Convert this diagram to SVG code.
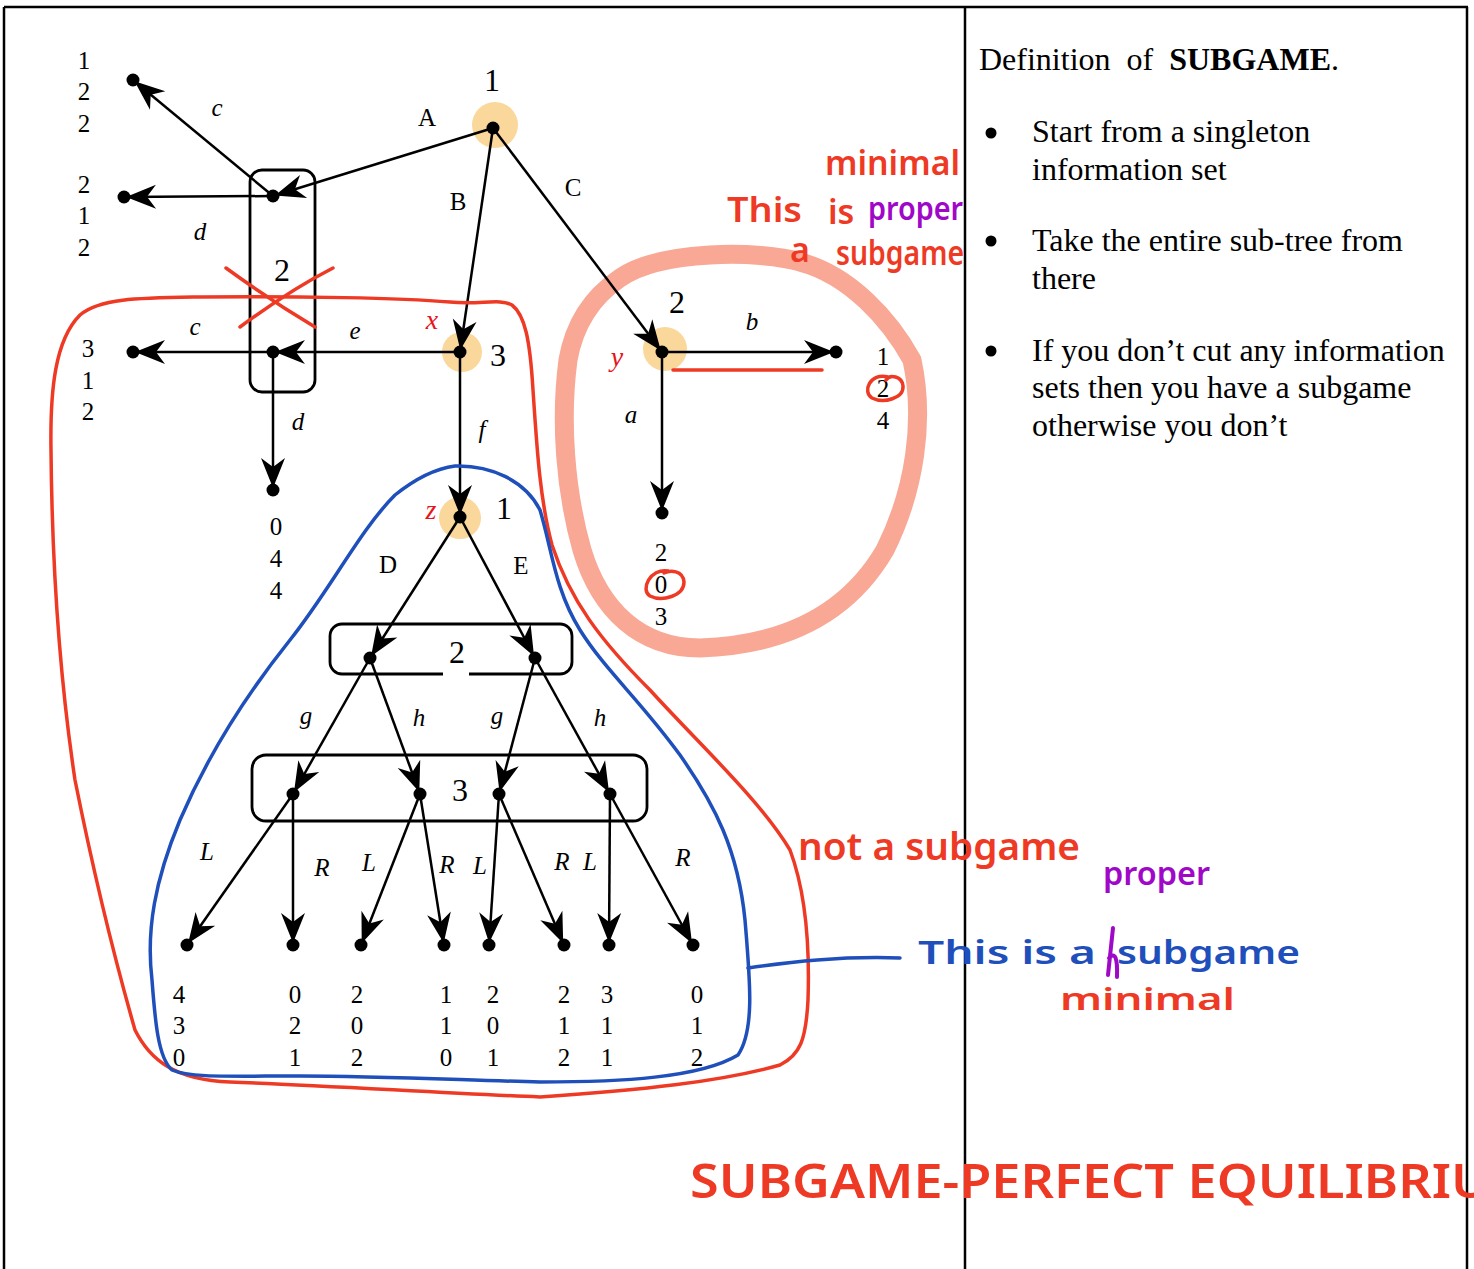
<svg xmlns="http://www.w3.org/2000/svg" width="1474" height="1269" viewBox="0 0 1474 1269">
<style>
.n{font-family:"Liberation Serif",serif;font-size:25px;text-anchor:middle;fill:#000}
.p{font-family:"Liberation Serif",serif;font-size:32px;text-anchor:middle;fill:#000}
.e{font-family:"Liberation Serif",serif;font-size:25px;text-anchor:middle;fill:#000}
.i{font-style:italic}
.rv{font-family:"Liberation Serif",serif;font-size:28px;font-style:italic;fill:#e8141b;text-anchor:middle}
.edge{stroke:#000;stroke-width:2.5;fill:none;marker-end:url(#ah)}
.dot{fill:#000}
.iset{fill:none;stroke:#000;stroke-width:2.8}
.hl{fill:#f9d38f;opacity:0.9}
.hw{font-family:"Noto Sans","DejaVu Sans",sans-serif;font-weight:600}
.txt{font-family:"Liberation Serif",serif;font-size:32px;fill:#000}
</style>
<defs>
<marker id="ah" markerUnits="userSpaceOnUse" viewBox="0 0 32 26" markerWidth="32" markerHeight="26" refX="33" refY="13" orient="auto">
<path d="M31,13 L1,1 L10,13 L1,25 Z" fill="#000"/>
</marker>
</defs>
<rect x="0" y="0" width="1474" height="1269" fill="#fff"/>
<g id="table" stroke="#000" stroke-width="2.5" fill="none">
<line x1="4" y1="7" x2="1468" y2="7"/>
<line x1="4" y1="7" x2="4" y2="1269"/>
<line x1="965" y1="7" x2="965" y2="1269"/>
<line x1="1467" y1="7" x2="1467" y2="1269"/>
</g>
<g id="highlights">
<circle class="hl" cx="495" cy="125" r="23"/>
<circle class="hl" cx="462" cy="352" r="20"/>
<circle class="hl" cx="460" cy="518" r="21"/>
<circle class="hl" cx="665" cy="349" r="22"/>
</g>
<path id="proper-circle" d="M620,278 C660,250 760,250 800,262 C850,275 890,320 912,360 C925,420 915,490 885,550 C850,610 790,645 700,648 C640,648 600,610 582,550 C565,490 560,420 568,360 C575,320 595,295 620,278 Z" fill="none" stroke="#f8a895" stroke-width="19"/>
<g id="infoset-2a"><rect class="iset" x="250" y="170" width="65" height="222" rx="12"/><text class="p" x="282" y="281">2</text></g>
<g id="infoset-2b"><rect class="iset" x="330" y="624" width="242" height="50" rx="12"/><rect x="443" y="667" width="26" height="10" fill="#fff"/><text class="p" x="457" y="663">2</text></g>
<g id="infoset-3"><rect class="iset" x="252" y="755" width="395" height="66" rx="14"/><text class="p" x="460" y="801">3</text></g>
<g id="connectors">
<line class="edge" x1="493" y1="128" x2="273" y2="196"/>
<line class="edge" x1="273" y1="196" x2="133" y2="80"/>
<line class="edge" x1="273" y1="196" x2="124" y2="197"/>
<line class="edge" x1="493" y1="128" x2="460" y2="352"/>
<line class="edge" x1="493" y1="128" x2="662" y2="352"/>
<line class="edge" x1="460" y1="352" x2="273" y2="352"/>
<line class="edge" x1="273" y1="352" x2="133" y2="352"/>
<line class="edge" x1="273" y1="352" x2="273" y2="490"/>
<line class="edge" x1="662" y1="352" x2="836" y2="352"/>
<line class="edge" x1="662" y1="352" x2="662" y2="513"/>
<line class="edge" x1="460" y1="352" x2="460" y2="517"/>
<line class="edge" x1="460" y1="517" x2="370" y2="658"/>
<line class="edge" x1="460" y1="517" x2="535" y2="658"/>
<line class="edge" x1="370" y1="658" x2="293" y2="794"/>
<line class="edge" x1="370" y1="658" x2="420" y2="794"/>
<line class="edge" x1="535" y1="658" x2="499" y2="794"/>
<line class="edge" x1="535" y1="658" x2="610" y2="794"/>
<line class="edge" x1="293" y1="794" x2="187" y2="945"/>
<line class="edge" x1="293" y1="794" x2="293" y2="945"/>
<line class="edge" x1="420" y1="794" x2="361" y2="945"/>
<line class="edge" x1="420" y1="794" x2="444" y2="945"/>
<line class="edge" x1="499" y1="794" x2="489" y2="945"/>
<line class="edge" x1="499" y1="794" x2="564" y2="945"/>
<line class="edge" x1="610" y1="794" x2="609" y2="945"/>
<line class="edge" x1="610" y1="794" x2="693" y2="945"/>
</g>
<g id="edge-labels">
<text class="e" x="427" y="126">A</text>
<text class="e" x="458" y="210">B</text>
<text class="e" x="573" y="196">C</text>
<text class="e i" x="217" y="116">c</text>
<text class="e i" x="200" y="240">d</text>
<text class="e i" x="195" y="335">c</text>
<text class="e i" x="355" y="339">e</text>
<text class="e i" x="298" y="430">d</text>
<text class="e i" x="482" y="438">f</text>
<text class="e i" x="752" y="330">b</text>
<text class="e i" x="631" y="423">a</text>
<text class="e" x="388" y="573">D</text>
<text class="e" x="521" y="574">E</text>
<text class="e i" x="306" y="724">g</text>
<text class="e i" x="419" y="726">h</text>
<text class="e i" x="497" y="724">g</text>
<text class="e i" x="600" y="726">h</text>
<text class="e i" x="207" y="860">L</text>
<text class="e i" x="322" y="876">R</text>
<text class="e i" x="369" y="871">L</text>
<text class="e i" x="447" y="873">R</text>
<text class="e i" x="480" y="874">L</text>
<text class="e i" x="562" y="870">R</text>
<text class="e i" x="590" y="870">L</text>
<text class="e i" x="683" y="866">R</text>
</g>
<g id="node-root"><circle class="dot" cx="493" cy="128" r="6.5"/><text class="p" x="492" y="91">1</text></g>
<g id="node-2-top"><circle class="dot" cx="273" cy="196" r="6.5"/></g>
<g id="node-2-bot"><circle class="dot" cx="273" cy="352" r="6.5"/></g>
<g id="node-x"><circle class="dot" cx="460" cy="352" r="6.5"/><text class="p" x="498" y="366">3</text><text class="rv" x="432" y="329">x</text></g>
<g id="node-y"><circle class="dot" cx="662" cy="352" r="6.5"/><text class="p" x="677" y="313">2</text><text class="rv" x="617" y="366">y</text></g>
<g id="node-z"><circle class="dot" cx="460" cy="517" r="6.5"/><text class="p" x="504" y="519">1</text><text class="rv" x="431" y="519">z</text></g>
<g id="node-D"><circle class="dot" cx="370" cy="658" r="6.5"/></g>
<g id="node-E"><circle class="dot" cx="535" cy="658" r="6.5"/></g>
<g id="node-3a"><circle class="dot" cx="293" cy="794" r="6.5"/></g>
<g id="node-3b"><circle class="dot" cx="420" cy="794" r="6.5"/></g>
<g id="node-3c"><circle class="dot" cx="499" cy="794" r="6.5"/></g>
<g id="node-3d"><circle class="dot" cx="610" cy="794" r="6.5"/></g>
<g id="t1"><circle class="dot" cx="133" cy="80" r="6.5"/><text class="n" x="84" y="69">1</text><text class="n" x="84" y="100">2</text><text class="n" x="84" y="132">2</text></g>
<g id="t2"><circle class="dot" cx="124" cy="197" r="6.5"/><text class="n" x="84" y="193">2</text><text class="n" x="84" y="224">1</text><text class="n" x="84" y="256">2</text></g>
<g id="t3"><circle class="dot" cx="133" cy="352" r="6.5"/><text class="n" x="88" y="357">3</text><text class="n" x="88" y="389">1</text><text class="n" x="88" y="420">2</text></g>
<g id="t4"><circle class="dot" cx="273" cy="490" r="6.5"/><text class="n" x="276" y="535">0</text><text class="n" x="276" y="567">4</text><text class="n" x="276" y="599">4</text></g>
<g id="t5"><circle class="dot" cx="836" cy="352" r="6.5"/><text class="n" x="883" y="365">1</text><text class="n" x="883" y="397">2</text><text class="n" x="883" y="429">4</text></g>
<g id="t6"><circle class="dot" cx="662" cy="513" r="6.5"/><text class="n" x="661" y="561">2</text><text class="n" x="661" y="593">0</text><text class="n" x="661" y="625">3</text></g>
<g id="t7"><circle class="dot" cx="187" cy="945" r="6.5"/><text class="n" x="179" y="1003">4</text><text class="n" x="179" y="1034">3</text><text class="n" x="179" y="1066">0</text></g>
<g id="t8"><circle class="dot" cx="293" cy="945" r="6.5"/><text class="n" x="295" y="1003">0</text><text class="n" x="295" y="1034">2</text><text class="n" x="295" y="1066">1</text></g>
<g id="t9"><circle class="dot" cx="361" cy="945" r="6.5"/><text class="n" x="357" y="1003">2</text><text class="n" x="357" y="1034">0</text><text class="n" x="357" y="1066">2</text></g>
<g id="t10"><circle class="dot" cx="444" cy="945" r="6.5"/><text class="n" x="446" y="1003">1</text><text class="n" x="446" y="1034">1</text><text class="n" x="446" y="1066">0</text></g>
<g id="t11"><circle class="dot" cx="489" cy="945" r="6.5"/><text class="n" x="493" y="1003">2</text><text class="n" x="493" y="1034">0</text><text class="n" x="493" y="1066">1</text></g>
<g id="t12"><circle class="dot" cx="564" cy="945" r="6.5"/><text class="n" x="564" y="1003">2</text><text class="n" x="564" y="1034">1</text><text class="n" x="564" y="1066">2</text></g>
<g id="t13"><circle class="dot" cx="609" cy="945" r="6.5"/><text class="n" x="607" y="1003">3</text><text class="n" x="607" y="1034">1</text><text class="n" x="607" y="1066">1</text></g>
<g id="t14"><circle class="dot" cx="693" cy="945" r="6.5"/><text class="n" x="697" y="1003">0</text><text class="n" x="697" y="1034">1</text><text class="n" x="697" y="1066">2</text></g>
<g id="red-marks" fill="none" stroke="#ee3a24" stroke-width="3.5" stroke-linecap="round">
<path d="M226,268 Q270,300 315,327"/>
<path d="M240,327 Q290,290 333,268"/>
<path d="M673,370 L822,370"/>
<path d="M888,377 C870,372 862,392 872,398 C884,404 904,398 903,386 C902,376 890,374 886,380"/>
<path d="M668,571 C650,568 640,590 650,596 C662,602 684,596 684,582 C683,570 670,570 664,573"/>
<path d="M135,1030 C115,960 95,880 75,780 C60,680 52,560 51,450 C50,390 55,340 80,315 C100,298 140,298 200,297 C300,296 400,298 450,302 C480,305 500,298 512,305 C525,315 530,340 533,390 C537,450 540,500 552,545 C570,600 600,640 650,690 C700,745 760,800 790,850 C805,890 810,940 808,1000 C806,1040 800,1055 780,1065 C720,1082 640,1090 540,1097 C440,1093 320,1085 230,1082 C175,1080 150,1060 135,1030"/>
</g>
<g id="blue-marks" fill="none" stroke="#1f4fbb" stroke-width="3.5" stroke-linecap="round">
<path d="M455,466 C490,465 525,480 540,510 C552,550 555,590 580,630 C605,670 640,700 680,755 C715,805 738,850 745,920 C750,980 755,1030 738,1055 C700,1078 620,1082 540,1082 C460,1080 380,1076 300,1076 C230,1076 190,1078 172,1070 C158,1058 155,1020 152,980 C146,930 155,880 180,820 C210,750 250,690 290,640 C330,590 360,530 395,495 C420,475 440,468 455,466 Z"/>
<path d="M748,968 C790,962 840,956 900,958"/>
</g>
<g id="handwriting" class="hw">
<text x="825" y="175" font-size="34" fill="#ee3a24" textLength="135" lengthAdjust="spacingAndGlyphs">minimal</text>
<text x="727" y="222" font-size="34" fill="#ee3a24" textLength="75" lengthAdjust="spacingAndGlyphs">This</text>
<text x="828" y="224" font-size="34" fill="#ee3a24">is</text>
<text x="868" y="220" font-size="32" fill="#a008c8" textLength="95" lengthAdjust="spacingAndGlyphs">proper</text>
<text x="790" y="262" font-size="34" fill="#ee3a24">a</text>
<text x="836" y="265" font-size="34" fill="#ee3a24" textLength="128" lengthAdjust="spacingAndGlyphs">subgame</text>
<text x="798" y="860" font-size="38" fill="#ee3a24" textLength="282" lengthAdjust="spacingAndGlyphs">not a subgame</text>
<text x="1103" y="885" font-size="32" fill="#a008c8" textLength="107" lengthAdjust="spacingAndGlyphs">proper</text>
<text x="918" y="964" font-size="33" fill="#1f4fbb" textLength="178" lengthAdjust="spacingAndGlyphs">This is a</text>
<text x="1117" y="964" font-size="33" fill="#1f4fbb" textLength="183" lengthAdjust="spacingAndGlyphs">subgame</text>
<text x="1060" y="1010" font-size="31" fill="#ee3a24" textLength="175" lengthAdjust="spacingAndGlyphs">minimal</text>
<path d="M1113,928 L1108,975 M1109,958 Q1118,948 1117,977" fill="none" stroke="#a008c8" stroke-width="4" stroke-linecap="round"/>
<text x="690" y="1198" font-size="46" fill="#ee3a24" textLength="800" lengthAdjust="spacingAndGlyphs">SUBGAME-PERFECT  EQUILIBRIU</text>
</g>
<g id="definition">
<text class="txt" x="979" y="70" xml:space="preserve">Definition  of  <tspan font-weight="bold">SUBGAME</tspan>.</text>
<circle cx="991" cy="133" r="5.5"/>
<circle cx="991" cy="241" r="5.5"/>
<circle cx="991" cy="351" r="5.5"/>
<text class="txt" x="1032" y="142">Start from a singleton</text>
<text class="txt" x="1032" y="180">information set</text>
<text class="txt" x="1032" y="251">Take the entire sub-tree from</text>
<text class="txt" x="1032" y="289">there</text>
<text class="txt" x="1032" y="361">If you don’t cut any information</text>
<text class="txt" x="1032" y="398">sets then you have a subgame</text>
<text class="txt" x="1032" y="436">otherwise you don’t</text>
</g>
</svg>
